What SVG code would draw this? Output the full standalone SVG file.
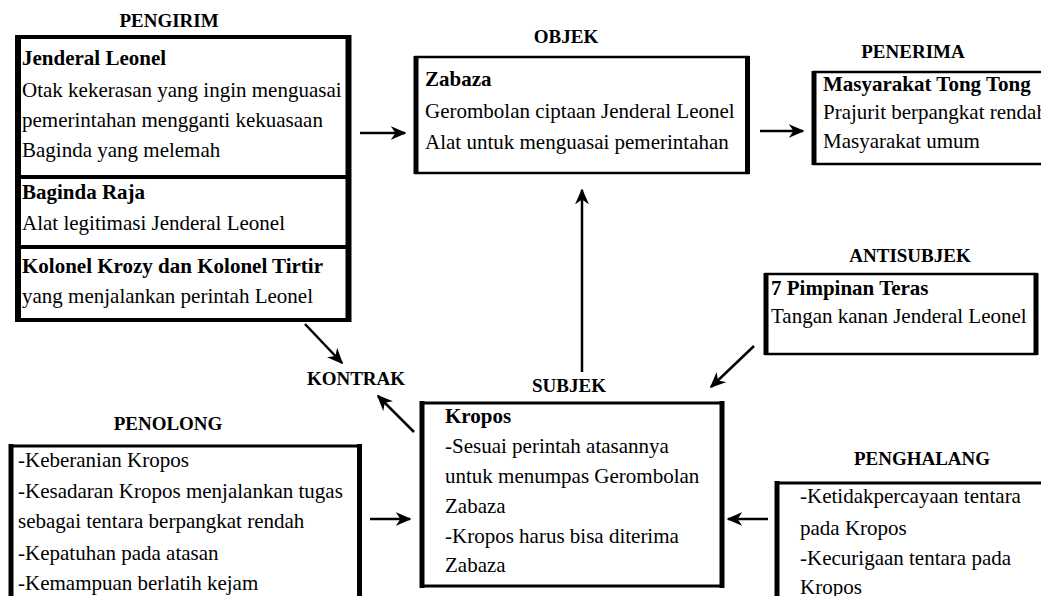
<svg xmlns="http://www.w3.org/2000/svg" width="1041" height="596" viewBox="0 0 1041 596">
<style>
text{font-family:"Liberation Serif","Tinos","Times New Roman","DejaVu Serif",serif;fill:#000}
.h{font-size:19px;font-weight:bold;text-anchor:middle}
.b{font-size:21px;font-weight:bold}
.t{font-size:21px}
.box{fill:#fff;stroke:#000;stroke-width:2.5}
.side{stroke:#000;stroke-width:5}
.div{stroke:#000;stroke-width:4}
.conn line{stroke:#000;stroke-width:2.5;marker-end:url(#ah)}
</style>
<defs>
<marker id="ah" viewBox="0 0 10 10" refX="9" refY="5" markerWidth="16" markerHeight="14" markerUnits="userSpaceOnUse" orient="auto" preserveAspectRatio="none">
<path d="M0,0 L10,5 L0,10 L3,5 z" fill="#000"/>
</marker>
</defs>
<rect width="1041" height="596" fill="#fff"/>

<g id="pengirim">
<text class="h" x="169" y="27">PENGIRIM</text>
<rect class="box" x="18" y="37" width="331" height="283" style="stroke-width:4"/>
<line class="side" x1="18" y1="35" x2="18" y2="322" style="stroke-width:6"/>
<line class="side" x1="348.5" y1="35" x2="348.5" y2="322" style="stroke-width:6"/>
<line class="div" x1="18" y1="177" x2="349" y2="177"/>
<line class="div" x1="18" y1="247" x2="349" y2="247"/>
<text class="b" x="22" y="65">Jenderal Leonel</text>
<text class="t" x="22" y="97">Otak kekerasan yang ingin menguasai</text>
<text class="t" x="22" y="127">pemerintahan mengganti kekuasaan</text>
<text class="t" x="22" y="157">Baginda yang melemah</text>
<text class="b" x="22" y="199">Baginda Raja</text>
<text class="t" x="22" y="230">Alat legitimasi Jenderal Leonel</text>
<text class="b" x="22" y="273">Kolonel Krozy dan Kolonel Tirtir</text>
<text class="t" x="22" y="303">yang menjalankan perintah Leonel</text>
</g>

<g id="objek">
<text class="h" x="566" y="43">OBJEK</text>
<rect class="box" x="416" y="57" width="332" height="116"/>
<line class="side" x1="416" y1="56" x2="416" y2="174"/>
<line class="side" x1="747.5" y1="56" x2="747.5" y2="174"/>
<text class="b" x="425" y="86">Zabaza</text>
<text class="t" x="425" y="118">Gerombolan ciptaan Jenderal Leonel</text>
<text class="t" x="425" y="149">Alat untuk menguasai pemerintahan</text>
</g>

<g id="penerima">
<text class="h" x="913" y="58">PENERIMA</text>
<rect class="box" x="814" y="72" width="240" height="92"/>
<line class="side" x1="814" y1="71" x2="814" y2="165"/>
<text class="b" x="823" y="91">Masyarakat Tong Tong</text>
<text class="t" x="823" y="119">Prajurit berpangkat rendah</text>
<text class="t" x="823" y="148">Masyarakat umum</text>
</g>

<g id="antisubjek">
<text class="h" x="910" y="262">ANTISUBJEK</text>
<rect class="box" x="766" y="274" width="270" height="80"/>
<line class="side" x1="766" y1="273" x2="766" y2="355"/>
<line class="side" x1="1036" y1="273" x2="1036" y2="355"/>
<text class="b" x="771" y="295">7 Pimpinan Teras</text>
<text class="t" x="771" y="323">Tangan kanan Jenderal Leonel</text>
</g>

<g id="kontrak">
<text class="h" x="356" y="385">KONTRAK</text>
</g>

<g id="subjek">
<text class="h" x="569" y="392">SUBJEK</text>
<rect class="box" x="422" y="403" width="300" height="183" style="stroke-width:3"/>
<line class="side" x1="422" y1="401" x2="422" y2="588"/>
<line class="side" x1="722" y1="401" x2="722" y2="588"/>
<text class="b" x="445" y="423">Kropos</text>
<text class="t" x="445" y="453">-Sesuai perintah atasannya</text>
<text class="t" x="445" y="483">untuk menumpas Gerombolan</text>
<text class="t" x="445" y="513">Zabaza</text>
<text class="t" x="445" y="543">-Kropos harus bisa diterima</text>
<text class="t" x="445" y="572">Zabaza</text>
</g>

<g id="penolong">
<text class="h" x="168" y="430">PENOLONG</text>
<rect class="box" x="11" y="446" width="349" height="200" style="stroke-width:3"/>
<line class="side" x1="11" y1="444" x2="11" y2="600"/>
<line class="side" x1="359.5" y1="444" x2="359.5" y2="600"/>
<text class="t" x="18" y="467">-Keberanian Kropos</text>
<text class="t" x="18" y="498">-Kesadaran Kropos menjalankan tugas</text>
<text class="t" x="18" y="528">sebagai tentara berpangkat rendah</text>
<text class="t" x="18" y="560">-Kepatuhan pada atasan</text>
<text class="t" x="18" y="590">-Kemampuan berlatih kejam</text>
</g>

<g id="penghalang">
<text class="h" x="922" y="465">PENGHALANG</text>
<rect class="box" x="777" y="483" width="300" height="200" style="stroke-width:3"/>
<line class="side" x1="777" y1="481" x2="777" y2="600"/>
<text class="t" x="800" y="503">-Ketidakpercayaan tentara</text>
<text class="t" x="800" y="535">pada Kropos</text>
<text class="t" x="800" y="565">-Kecurigaan tentara pada</text>
<text class="t" x="800" y="594">Kropos</text>
</g>

<g id="connectors" class="conn">
<line x1="360" y1="133" x2="405" y2="133"/>
<line x1="760" y1="131" x2="803" y2="131"/>
<line x1="582" y1="372" x2="582" y2="190"/>
<line x1="754" y1="346" x2="711" y2="387"/>
<line x1="305" y1="324" x2="342" y2="363"/>
<line x1="414" y1="432" x2="378" y2="396"/>
<line x1="370" y1="519" x2="410" y2="519"/>
<line x1="768" y1="519" x2="728" y2="519"/>
</g>
</svg>
